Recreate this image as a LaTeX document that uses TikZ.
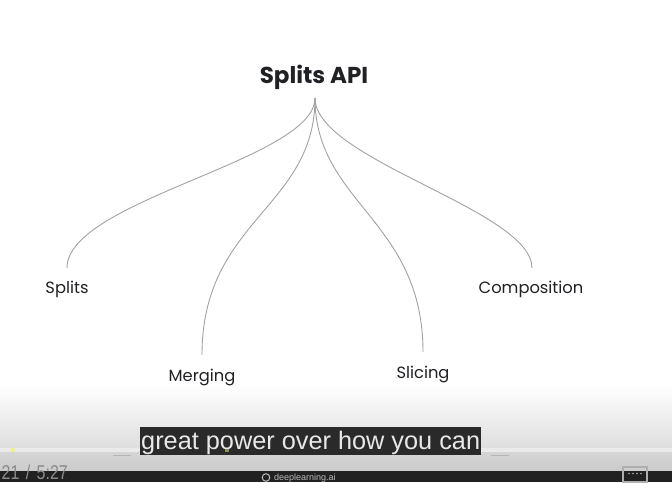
\documentclass[tikz,border=0pt]{standalone}
\usepackage{fontspec}
\setmainfont{Poppins}
\newfontfamily\subfont{Liberation Sans}
\definecolor{linegray}{HTML}{A2A2A2}
\definecolor{labelcol}{HTML}{202124}
\definecolor{fadegray}{HTML}{DEDEDE}
\definecolor{stripgray}{HTML}{D6D6D6}
\definecolor{stripgraylow}{HTML}{CBCBCB}
\definecolor{progresscol}{HTML}{EAEAEA}
\definecolor{barcol}{HTML}{212121}
\definecolor{subbox}{HTML}{2A2A2A}
\definecolor{subtext}{HTML}{E8E8E8}
\definecolor{timecol}{HTML}{8C8C8C}
\definecolor{dotyellow}{HTML}{F2F08A}
\begin{document}
\begin{tikzpicture}[x=1pt,y=-1pt,
  branch/.style={draw=linegray, line width=0.9pt},
  leaf/.style={font=\fontsize{16.3}{18}\selectfont, text=labelcol, anchor=base, inner sep=0pt},
  headline/.style={font=\fontsize{23}{26}\selectfont\bfseries, text=labelcol, anchor=base, inner sep=0pt},
  caption/.style={font=\subfont\fontsize{25.3}{28}\selectfont, text=subtext, fill=subbox, anchor=base west,
     inner xsep=1pt, inner ysep=0pt, text depth=6pt, text height=22.5pt},
  uitext/.style={font=\subfont\fontsize{20}{22}\selectfont, text=timecol, anchor=base west, inner sep=0pt},
  tick/.style={draw=linegray!80, line width=0.8pt}
]
\useasboundingbox (0,0) rectangle (672,482);
\clip (0,0) rectangle (672,482);
% background
\fill[white] (0,0) rectangle (672,482);
\shade[top color=white, bottom color=fadegray] (0,385) rectangle (672,448);
\shade[top color=stripgray, bottom color=stripgraylow] (0,451) rectangle (672,471);
\fill[progresscol] (0,448) rectangle (672,451.5);
\fill[dotyellow] (10.5,447.5) rectangle (15,451.5);
\fill[barcol] (0,470.5) rectangle (672,482);
\draw[tick] (113,455) -- (131,455);
\draw[tick] (491,455) -- (509,455);

% diagram
\node[headline] (title) at (314,83) {Splits API};
\coordinate (hub) at (315,98);
\node[leaf] (splits) at (67,293.5) {Splits};
\node[leaf] (merging) at (202,381) {Merging};
\node[leaf] (slicing) at (423,378) {Slicing};
\node[leaf] (composition) at (531,293.5) {Composition};
\coordinate (e1) at (67,268);
\coordinate (e2) at (202,355);
\coordinate (e3) at (423,352);
\coordinate (e4) at (532,268);
\draw[branch] (hub) .. controls +(0,62) and +(0,-68) .. (e1);
\draw[branch] (hub) .. controls +(0,110) and +(0,-135) .. (e2);
\draw[branch] (hub) .. controls +(0,105) and +(0,-132) .. (e3);
\draw[branch] (hub) .. controls +(0,62) and +(0,-58) .. (e4);

% subtitle
\node[caption] (sub) at (140,449) {great power over how you can};
\fill[dotyellow!60!black] (224.5,448.5) rectangle (229,451.5);

% player controls
\node[uitext] (time) at (1.5,479) {\scalebox{0.8}[1]{21\hspace{8pt}/\hspace{8pt}5:27}};
\node[font=\subfont\fontsize{9}{10}\selectfont, text=timecol!60!white, anchor=base west, inner sep=0pt]
  (brand) at (274,480.5) {deeplearning.ai};
\draw[timecol!60!white, line width=1pt] (266,477.5) circle (3.8);
\node[draw=timecol!70!white, line width=1.5pt, minimum width=24pt, minimum height=15pt, inner sep=0pt]
  (cc) at (635,474.5) {};
\foreach \dx in {-6,-2,2,6} \fill[timecol!70!white] ([xshift=\dx pt, yshift=1pt]cc.center) circle (0.9);
\end{tikzpicture}
\end{document}
